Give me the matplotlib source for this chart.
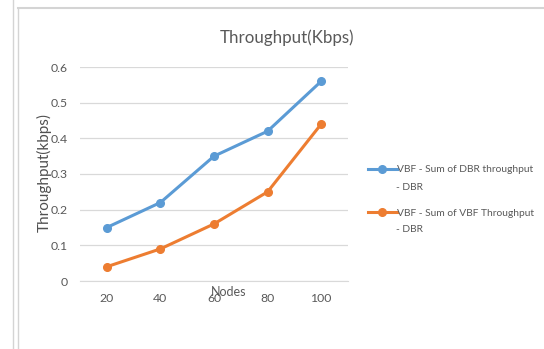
import matplotlib
matplotlib.use("Agg")
import matplotlib.pyplot as plt
from matplotlib.lines import Line2D

nodes = ["20", "40", "60", "80", "100"]
dbr_throughput = [0.15, 0.22, 0.35, 0.42, 0.56]
vbf_throughput = [0.04, 0.09, 0.16, 0.25, 0.44]
yticks = [0, 0.1, 0.2, 0.3, 0.4, 0.5, 0.6]
ytick_labels = ["0", "0.1", "0.2", "0.3", "0.4", "0.5", "0.6"]
labels = ["VBF - Sum of DBR throughput", "VBF - Sum of VBF Throughput"]
label_tail = "- DBR"

plt.rcParams['font.family'] = ['Lato', 'DejaVu Sans']
txt = '#595959'
grid = '#d9d9d9'

W, H = 544, 349
fig = plt.figure(figsize=(W / 100, H / 100), dpi=100)
ax = fig.add_axes([80 / W, 1 - 281 / H, (348 - 80) / W, (281 - 67) / H])

x = list(range(len(nodes)))
l1, = ax.plot(x, dbr_throughput, color='#5B9BD5', lw=2.2, marker='o', ms=5.5)
l2, = ax.plot(x, vbf_throughput, color='#ED7D31', lw=2.2, marker='o', ms=5.5)

ax.set_xlim(-0.5, len(nodes) - 0.5)
ax.set_ylim(0, 0.6)
ax.set_xticks(x)
ax.set_xticklabels(nodes, fontsize=8.8, color=txt)
ax.set_yticks(yticks)
ax.set_yticklabels(ytick_labels, fontsize=8.8, color=txt)
ax.tick_params(length=0, pad=9)
ax.tick_params(axis='y', pad=9)
ax.grid(axis='y', color=grid, lw=0.9)
ax.set_axisbelow(True)
for s in ['top', 'right', 'left']:
    ax.spines[s].set_visible(False)
ax.spines['bottom'].set_color(grid)

fig.text(287 / W, 1 - 38 / H, "Throughput(Kbps)", fontsize=12.2, color=txt,
         ha='center', va='center')
fig.text(44 / W, 1 - 173 / H, "Throughput(kbps)", fontsize=11, color='#505050',
         rotation=90, ha='center', va='center')
fig.text(229 / W, 1 - 292 / H, "Nodes", fontsize=9, color=txt,
         ha='center', va='center')

leg = fig.legend([l1, l2], labels, loc='upper left',
                 bbox_to_anchor=(368 / W, 1 - 165 / H),
                 frameon=False, fontsize=7.4, labelcolor=txt, handlelength=2.8,
                 handletextpad=0.05, labelspacing=3.35, borderaxespad=0,
                 borderpad=0)
# second line of each legend label
for yy in [188, 230]:
    fig.text(396 / W, 1 - yy / H, label_tail, fontsize=7.4, color=txt,
             ha='left', va='center')

# surrounding frame lines
fc = '#d4d4d4'
fig.add_artist(Line2D([12.5 / W, 12.5 / W], [0, 1], color=fc, lw=1))
fig.add_artist(Line2D([17.5 / W, 17.5 / W], [0, 1 - 8 / H], color=fc, lw=1))
fig.add_artist(Line2D([17.5 / W, 543 / W], [1 - 8 / H, 1 - 8 / H], color=fc, lw=1.5))

fig.savefig("out.png", dpi=100)
